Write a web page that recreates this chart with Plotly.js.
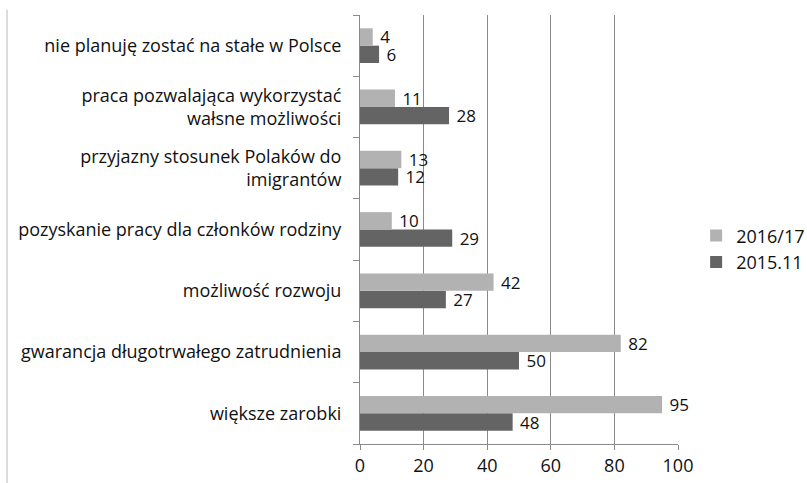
<!DOCTYPE html>
<html><head><meta charset="utf-8">
<script src="https://cdn.plot.ly/plotly-3.0.1.min.js"></script>
<style>html,body{margin:0;padding:0;background:#fff}#c{width:807px;height:483px}</style>
</head><body><div id="c"></div>
<script>
const categories = [
  "większe zarobki",
  "gwarancja długotrwałego zatrudnienia",
  "możliwość rozwoju",
  "pozyskanie pracy dla członków rodziny",
  "przyjazny stosunek Polaków do<br>imigrantów",
  "praca pozwalająca wykorzystać<br>wałsne możliwości",
  "nie planuję zostać na stałe w Polsce"
];
const series2016 = [95, 82, 42, 10, 13, 11, 4];
const series2015 = [48, 50, 27, 29, 12, 28, 6];
const xTicks = [0, 20, 40, 60, 80, 100];

const font = {family: "Open Sans, Liberation Sans, sans-serif", size: 18, color: "#111"};
const labelFont = {family: "Open Sans, Liberation Sans, sans-serif", size: 17, color: "#111"};
const traces = [
  {type: "bar", orientation: "h", name: "2015.11", y: categories, x: series2015,
   marker: {color: "#646464"}, text: series2015.map(v => " " + v), textposition: "outside",
   constraintext: "none", textfont: labelFont, cliponaxis: false, hoverinfo: "none"},
  {type: "bar", orientation: "h", name: "2016/17", y: categories, x: series2016,
   marker: {color: "#b2b2b2"}, text: series2016.map(v => " " + v), textposition: "outside",
   constraintext: "none", textfont: labelFont, cliponaxis: false, hoverinfo: "none"}
];
const layout = {
  width: 807, height: 483,
  margin: {l: 360, r: 129, t: 15, b: 39, autoexpand: false},
  paper_bgcolor: "#fff", plot_bgcolor: "#fff",
  barmode: "group", bargap: 0.434, bargroupgap: 0,
  font: font,
  showlegend: true,
  legend: {x: 1.057, y: 0.455, xanchor: "left", yanchor: "middle", traceorder: "reversed",
           font: font, itemwidth: 30},
  xaxis: {range: [0, 100], tickvals: xTicks, showgrid: true, gridcolor: "#8a8a8a", gridwidth: 1,
          zeroline: false, showline: true, linecolor: "#8a8a8a", ticks: "outside", ticklen: 5,
          tickcolor: "#8a8a8a", tickfont: font, fixedrange: true, automargin: false},
  yaxis: {type: "category", categoryorder: "array", categoryarray: categories,
          showline: true, linecolor: "#8a8a8a", ticks: "outside", tickson: "boundaries",
          ticklen: 6, tickcolor: "#8a8a8a", tickfont: font, showgrid: false, ticklabelstandoff: 14,
          fixedrange: true, automargin: false},
  shapes: [{type: "line", xref: "paper", yref: "paper", x0: -1.11, x1: -1.11, y0: 1.012, y1: -0.095,
            line: {color: "#d0d0d0", width: 1.5}}]
};
Plotly.newPlot("c", traces, layout, {displayModeBar: false, staticPlot: true});
</script></body></html>
